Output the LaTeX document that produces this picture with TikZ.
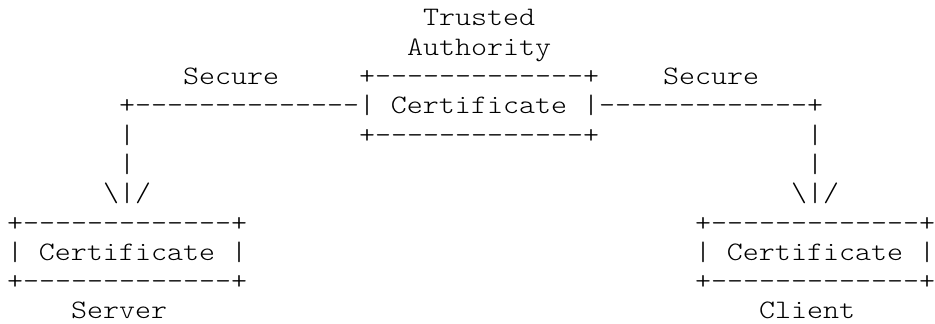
\documentclass[tikz,border=0pt]{standalone}
\usepackage{fontspec}
\newfontfamily\artfont[FakeStretch=1.143]{Latin Modern Mono Light}
\tikzset{
	art/.style={anchor=base west,inner sep=0pt,outer sep=0pt,
		font=\artfont\fontsize{26.67pt}{29.3pt}\selectfont}
}
\begin{document}
\begin{tikzpicture}[x=16pt,y=29.3pt]
		\useasboundingbox (-0.4375,0.887) rectangle (58,-10.15);
		\node[art] (trusted) at (26,0) {Trusted};
		\node[art] (authority) at (25,-1) {Authority};
		\node[art] (secleft) at (11,-2) {Secure};
		\node[art] (catop) at (22,-2) {+-------------+};
		\node[art] (secright) at (41,-2) {Secure};
		\node[art] (linkleft) at (7,-3) {+--------------};
		\node[art] (ca) at (22,-3) {| Certificate |};
		\node[art] (linkright) at (37,-3) {-------------+};
		\node[art] (downleft1) at (7,-4) {|};
		\node[art] (cabottom) at (22,-4) {+-------------+};
		\node[art] (downright1) at (50,-4) {|};
		\node[art] (downleft2) at (7,-5) {|};
		\node[art] (downright2) at (50,-5) {|};
		\node[art] (arrowleft) at (6,-6) {\textbackslash|/};
		\node[art] (arrowright) at (49,-6) {\textbackslash|/};
		\node[art] (servertop) at (0,-7) {+-------------+};
		\node[art] (servercert) at (0,-8) {| Certificate |};
		\node[art] (serverbottom) at (0,-9) {+-------------+};
		\node[art] (clienttop) at (43,-7) {+-------------+};
		\node[art] (clientcert) at (43,-8) {| Certificate |};
		\node[art] (clientbottom) at (43,-9) {+-------------+};
		\node[art] (server) at (4,-10) {Server};
		\node[art] (client) at (47,-10) {Client};
	\end{tikzpicture}
\end{document}
